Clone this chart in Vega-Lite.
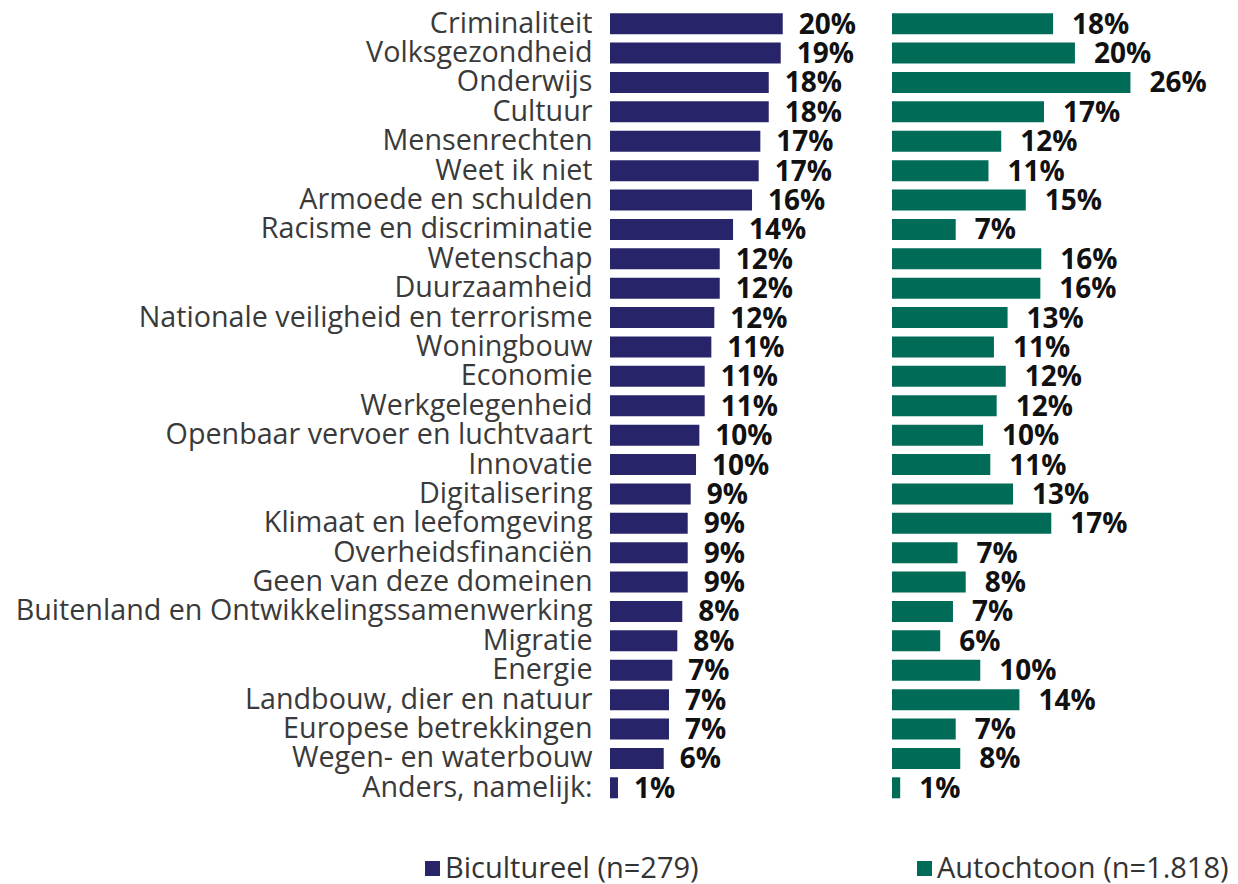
{
  "$schema": "https://vega.github.io/schema/vega-lite/v6.json",
  "background": "white",
  "padding": {"left": 15, "top": 9, "right": 5, "bottom": 0},
  "spacing": 22,
  "config": {"view": {"stroke": null}, "font": "Open Sans"},
  "datasets": {
    "bic": [
      {"cat": "Criminaliteit", "group": "Bicultureel  (n=279)", "value": 19.74, "label": "20%"},
      {"cat": "Volksgezondheid", "group": "Bicultureel  (n=279)", "value": 19.51, "label": "19%"},
      {"cat": "Onderwijs", "group": "Bicultureel  (n=279)", "value": 18.14, "label": "18%"},
      {"cat": "Cultuur", "group": "Bicultureel  (n=279)", "value": 18.14, "label": "18%"},
      {"cat": "Mensenrechten", "group": "Bicultureel  (n=279)", "value": 17.18, "label": "17%"},
      {"cat": "Weet ik niet", "group": "Bicultureel  (n=279)", "value": 16.99, "label": "17%"},
      {"cat": "Armoede en schulden", "group": "Bicultureel  (n=279)", "value": 16.23, "label": "16%"},
      {"cat": "Racisme en discriminatie", "group": "Bicultureel  (n=279)", "value": 14.06, "label": "14%"},
      {"cat": "Wetenschap", "group": "Bicultureel  (n=279)", "value": 12.54, "label": "12%"},
      {"cat": "Duurzaamheid", "group": "Bicultureel  (n=279)", "value": 12.54, "label": "12%"},
      {"cat": "Nationale veiligheid en terrorisme", "group": "Bicultureel  (n=279)", "value": 11.92, "label": "12%"},
      {"cat": "Woningbouw", "group": "Bicultureel  (n=279)", "value": 11.58, "label": "11%"},
      {"cat": "Economie", "group": "Bicultureel  (n=279)", "value": 10.82, "label": "11%"},
      {"cat": "Werkgelegenheid", "group": "Bicultureel  (n=279)", "value": 10.82, "label": "11%"},
      {"cat": "Openbaar vervoer en luchtvaart", "group": "Bicultureel  (n=279)", "value": 10.21, "label": "10%"},
      {"cat": "Innovatie", "group": "Bicultureel  (n=279)", "value": 9.83, "label": "10%"},
      {"cat": "Digitalisering", "group": "Bicultureel  (n=279)", "value": 9.22, "label": "9%"},
      {"cat": "Klimaat en leefomgeving", "group": "Bicultureel  (n=279)", "value": 8.88, "label": "9%"},
      {"cat": "Overheidsfinanciën", "group": "Bicultureel  (n=279)", "value": 8.88, "label": "9%"},
      {"cat": "Geen van deze domeinen", "group": "Bicultureel  (n=279)", "value": 8.88, "label": "9%"},
      {"cat": "Buitenland en Ontwikkelingssamenwerking", "group": "Bicultureel  (n=279)", "value": 8.26, "label": "8%"},
      {"cat": "Migratie", "group": "Bicultureel  (n=279)", "value": 7.69, "label": "8%"},
      {"cat": "Energie", "group": "Bicultureel  (n=279)", "value": 7.12, "label": "7%"},
      {"cat": "Landbouw, dier en natuur", "group": "Bicultureel  (n=279)", "value": 6.74, "label": "7%"},
      {"cat": "Europese betrekkingen", "group": "Bicultureel  (n=279)", "value": 6.74, "label": "7%"},
      {"cat": "Wegen- en waterbouw", "group": "Bicultureel  (n=279)", "value": 6.14, "label": "6%"},
      {"cat": "Anders, namelijk:", "group": "Bicultureel  (n=279)", "value": 0.91, "label": "1%"}
    ],
    "aut": [
      {"cat": "Criminaliteit", "group": "Autochtoon  (n=1.818)", "value": 17.7, "label": "18%"},
      {"cat": "Volksgezondheid", "group": "Autochtoon  (n=1.818)", "value": 20.1, "label": "20%"},
      {"cat": "Onderwijs", "group": "Autochtoon  (n=1.818)", "value": 26.2, "label": "26%"},
      {"cat": "Cultuur", "group": "Autochtoon  (n=1.818)", "value": 16.7, "label": "17%"},
      {"cat": "Mensenrechten", "group": "Autochtoon  (n=1.818)", "value": 12.0, "label": "12%"},
      {"cat": "Weet ik niet", "group": "Autochtoon  (n=1.818)", "value": 10.6, "label": "11%"},
      {"cat": "Armoede en schulden", "group": "Autochtoon  (n=1.818)", "value": 14.7, "label": "15%"},
      {"cat": "Racisme en discriminatie", "group": "Autochtoon  (n=1.818)", "value": 7.0, "label": "7%"},
      {"cat": "Wetenschap", "group": "Autochtoon  (n=1.818)", "value": 16.4, "label": "16%"},
      {"cat": "Duurzaamheid", "group": "Autochtoon  (n=1.818)", "value": 16.3, "label": "16%"},
      {"cat": "Nationale veiligheid en terrorisme", "group": "Autochtoon  (n=1.818)", "value": 12.7, "label": "13%"},
      {"cat": "Woningbouw", "group": "Autochtoon  (n=1.818)", "value": 11.2, "label": "11%"},
      {"cat": "Economie", "group": "Autochtoon  (n=1.818)", "value": 12.5, "label": "12%"},
      {"cat": "Werkgelegenheid", "group": "Autochtoon  (n=1.818)", "value": 11.5, "label": "12%"},
      {"cat": "Openbaar vervoer en luchtvaart", "group": "Autochtoon  (n=1.818)", "value": 10.0, "label": "10%"},
      {"cat": "Innovatie", "group": "Autochtoon  (n=1.818)", "value": 10.8, "label": "11%"},
      {"cat": "Digitalisering", "group": "Autochtoon  (n=1.818)", "value": 13.3, "label": "13%"},
      {"cat": "Klimaat en leefomgeving", "group": "Autochtoon  (n=1.818)", "value": 17.5, "label": "17%"},
      {"cat": "Overheidsfinanciën", "group": "Autochtoon  (n=1.818)", "value": 7.2, "label": "7%"},
      {"cat": "Geen van deze domeinen", "group": "Autochtoon  (n=1.818)", "value": 8.1, "label": "8%"},
      {"cat": "Buitenland en Ontwikkelingssamenwerking", "group": "Autochtoon  (n=1.818)", "value": 6.7, "label": "7%"},
      {"cat": "Migratie", "group": "Autochtoon  (n=1.818)", "value": 5.3, "label": "6%"},
      {"cat": "Energie", "group": "Autochtoon  (n=1.818)", "value": 9.7, "label": "10%"},
      {"cat": "Landbouw, dier en natuur", "group": "Autochtoon  (n=1.818)", "value": 14.0, "label": "14%"},
      {"cat": "Europese betrekkingen", "group": "Autochtoon  (n=1.818)", "value": 7.0, "label": "7%"},
      {"cat": "Wegen- en waterbouw", "group": "Autochtoon  (n=1.818)", "value": 7.5, "label": "8%"},
      {"cat": "Anders, namelijk:", "group": "Autochtoon  (n=1.818)", "value": 0.9, "label": "1%"}
    ]
  },
  "hconcat": [
    {
      "data": {"name": "bic"},
      "width": 260,
      "height": 793.5,
      "encoding": {
        "y": {"field": "cat", "type": "nominal", "sort": null,
          "scale": {"paddingInner": 0.285, "paddingOuter": 0.1425},
          "axis": {"title": null, "domain": false, "ticks": false, "labelPadding": 18, "labelFontSize": 28.7, "labelColor": "#3a3a3a", "labelLimit": 800}},
        "x": {"field": "value", "type": "quantitative", "scale": {"domain": [0, 29.71], "nice": false, "zero": true}, "axis": null}
      },
      "layer": [
        {"mark": {"type": "bar"},
         "encoding": {"color": {"field": "group", "type": "nominal", "scale": {"range": ["#28246a"]},
           "legend": {"title": null, "orient": "none", "legendX": -192, "legendY": 845, "symbolType": "square", "symbolSize": 225, "symbolStrokeWidth": 0, "labelFontSize": 29, "labelColor": "#333333", "labelOffset": -2, "labelLimit": 600}}}},
        {"mark": {"type": "text", "align": "left", "baseline": "middle", "dx": 16, "dy": 2, "fontSize": 28, "fontWeight": "bold", "color": "#111111"},
         "encoding": {"text": {"field": "label"}}}
      ]
    },
    {
      "data": {"name": "aut"},
      "width": 330,
      "height": 793.5,
      "encoding": {
        "y": {"field": "cat", "type": "nominal", "sort": null,
          "scale": {"paddingInner": 0.285, "paddingOuter": 0.1425}, "axis": null},
        "x": {"field": "value", "type": "quantitative", "scale": {"domain": [0, 36.26], "nice": false, "zero": true}, "axis": null}
      },
      "layer": [
        {"mark": {"type": "bar"},
         "encoding": {"color": {"field": "group", "type": "nominal", "scale": {"range": ["#006b57"]},
           "legend": {"title": null, "orient": "none", "legendX": 18, "legendY": 845, "symbolType": "square", "symbolSize": 225, "symbolStrokeWidth": 0, "labelFontSize": 29, "labelColor": "#333333", "labelOffset": -2, "labelLimit": 600}}}},
        {"mark": {"type": "text", "align": "left", "baseline": "middle", "dx": 19, "dy": 2, "fontSize": 28, "fontWeight": "bold", "color": "#111111"},
         "encoding": {"text": {"field": "label"}}}
      ]
    }
  ],
  "resolve": {"scale": {"color": "independent", "y": "independent", "x": "independent"}}
}
